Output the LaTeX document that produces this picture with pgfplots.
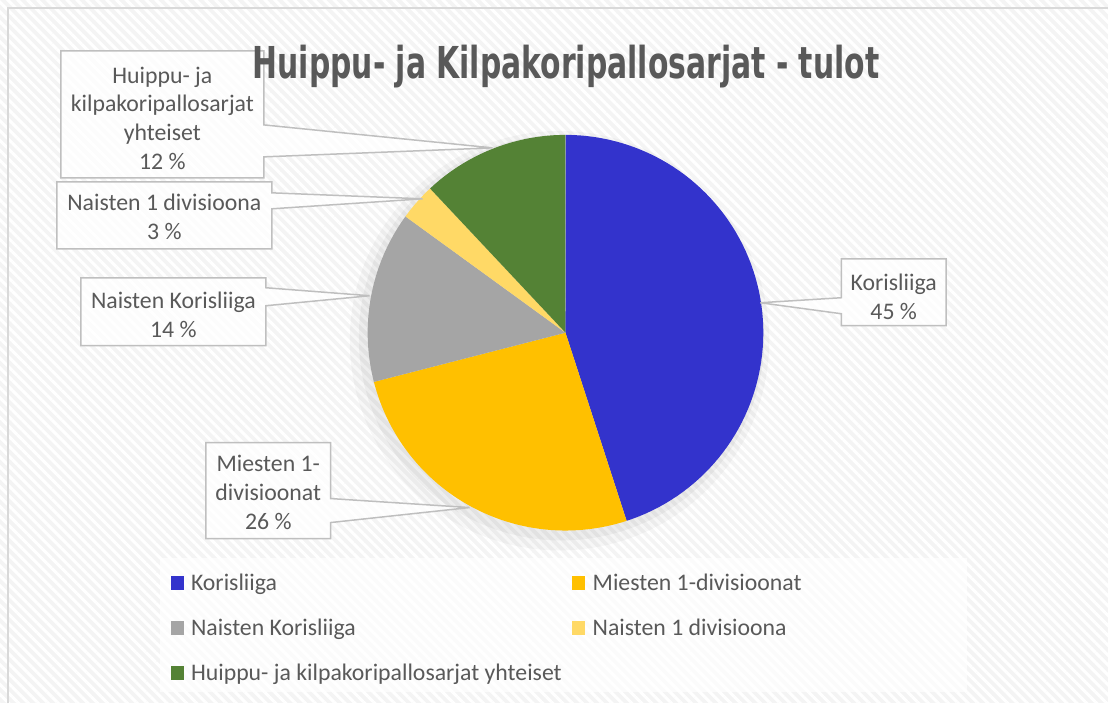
\documentclass[border=0pt]{standalone}
\usepackage{fontspec}
\setmainfont{Carlito}
\newfontfamily\titlefont{DejaVu Sans}
\usepackage{graphicx}
\usepackage{pgfplots}
\pgfplotsset{compat=1.18}
\usetikzlibrary{patterns.meta}

\definecolor{cKor}{HTML}{3333CC}
\definecolor{cMies}{HTML}{FFC000}
\definecolor{cNK}{HTML}{A5A5A5}
\definecolor{cN1}{HTML}{FFD966}
\definecolor{cHK}{HTML}{548235}
\definecolor{txt}{HTML}{595959}
\definecolor{boxline}{HTML}{BFBFBF}
\definecolor{bg}{HTML}{F4F4F4}

% shares in percent (clockwise from 12 o'clock)
\def\vKor{45}
\def\vMies{26}
\def\vNK{14}
\def\vNone{3}
\def\vHK{12}

\pgfmathsetmacro{\aA}{90}
\pgfmathsetmacro{\aB}{\aA-3.6*\vKor}
\pgfmathsetmacro{\aC}{\aB-3.6*\vMies}
\pgfmathsetmacro{\aD}{\aC-3.6*\vNK}
\pgfmathsetmacro{\aE}{\aD-3.6*\vNone}
\pgfmathsetmacro{\aF}{\aE-3.6*\vHK}

\def\cx{566}
\def\cy{333}
\def\rr{198}

\tikzset{lbl/.style={text=txt, align=center, inner sep=0pt,
  font=\fontsize{23.8}{29}\selectfont},
  call/.style={draw=boxline, line width=1.5pt, fill=white, fill opacity=0.75}}

\begin{document}
\begin{tikzpicture}
\begin{axis}[
  width=1109pt, height=704pt, scale only axis,
  xmin=0, xmax=1109, ymin=0, ymax=704, y dir=reverse,
  hide axis, clip=false,
]
% background
\fill[bg] (axis cs:0,0) rectangle (axis cs:1109,704);
\fill[pattern={Lines[angle=-45,distance=7pt,line width=3pt]}, pattern color=white]
  (axis cs:0,0) rectangle (axis cs:1109,704);
\draw[gray!30, line width=2pt] (axis cs:8,704) -- (axis cs:8,8) -- (axis cs:1109,8);
\fill[white, opacity=0.7] (axis cs:160,558) rectangle (axis cs:968,693);

% soft shadow
\addplot[fill=black, fill opacity=0.03, draw=none, domain=0:360, samples=90]
  ({\cx-6+210*cos(x)}, {\cy+8-210*sin(x)});
\addplot[fill=black, fill opacity=0.04, draw=none, domain=0:360, samples=90]
  ({\cx-4+203*cos(x)}, {\cy+5-203*sin(x)});

% slices
\addplot[fill=cKor, draw=none, domain=\aB:\aA, samples=80]
  ({\cx+\rr*cos(x)}, {\cy-\rr*sin(x)}) -- (axis cs:\cx,\cy) -- cycle;
\addplot[fill=cMies, draw=none, domain=\aC:\aB, samples=60]
  ({\cx+\rr*cos(x)}, {\cy-\rr*sin(x)}) -- (axis cs:\cx,\cy) -- cycle;
\addplot[fill=cNK, draw=none, domain=\aD:\aC, samples=40]
  ({\cx+\rr*cos(x)}, {\cy-\rr*sin(x)}) -- (axis cs:\cx,\cy) -- cycle;
\addplot[fill=cN1, draw=none, domain=\aE:\aD, samples=12]
  ({\cx+\rr*cos(x)}, {\cy-\rr*sin(x)}) -- (axis cs:\cx,\cy) -- cycle;
\addplot[fill=cHK, draw=none, domain=\aF:\aE, samples=40]
  ({\cx+\rr*cos(x)}, {\cy-\rr*sin(x)}) -- (axis cs:\cx,\cy) -- cycle;

% callouts
\draw[call] (axis cs:61,51) -- (axis cs:264,51) -- (axis cs:264,125) -- (axis cs:493,148)
  -- (axis cs:264,157) -- (axis cs:264,178) -- (axis cs:61,178) -- cycle;
\draw[call] (axis cs:57,182) -- (axis cs:272,182) -- (axis cs:272,193) -- (axis cs:423,199)
  -- (axis cs:272,209) -- (axis cs:272,249) -- (axis cs:57,249) -- cycle;
\draw[call] (axis cs:81,278) -- (axis cs:266,278) -- (axis cs:266,288) -- (axis cs:370,296)
  -- (axis cs:266,306) -- (axis cs:266,346) -- (axis cs:81,346) -- cycle;
\draw[call] (axis cs:206,443) -- (axis cs:331,443) -- (axis cs:331,499) -- (axis cs:470,508)
  -- (axis cs:331,523) -- (axis cs:331,539) -- (axis cs:206,539) -- cycle;
\draw[call] (axis cs:842,259) -- (axis cs:947,259) -- (axis cs:947,326) -- (axis cs:842,326)
  -- (axis cs:842,314) -- (axis cs:761,303) -- (axis cs:842,298) -- cycle;

\node[lbl] at (axis cs:162.5,118.5) {Huippu- ja\\kilpakoripallosarjat\\yhteiset\\12 \%};
\node[lbl] at (axis cs:164.5,217.5) {Naisten 1 divisioona\\3 \%};
\node[lbl] at (axis cs:173.5,315) {Naisten Korisliiga\\14 \%};
\node[lbl] at (axis cs:268.5,493) {Miesten 1-\\divisioonat\\26 \%};
\node[lbl] at (axis cs:894.5,297) {Korisliiga\\45 \%};

% title
\node[anchor=base, text=txt, inner sep=0pt] at (axis cs:566.5,79)
  {\resizebox{627pt}{\height}{\titlefont\bfseries\fontsize{44}{50}\selectfont Huippu- ja Kilpakoripallosarjat - tulot}};

% legend
\fill[cKor]  (axis cs:171,577) rectangle (axis cs:184,591);
\fill[cMies] (axis cs:573,577) rectangle (axis cs:586,591);
\fill[cNK]   (axis cs:171,622) rectangle (axis cs:184,636);
\fill[cN1]   (axis cs:573,622) rectangle (axis cs:586,636);
\fill[cHK]   (axis cs:171,667) rectangle (axis cs:184,681);
\node[lbl, anchor=base west] at (axis cs:191,591) {Korisliiga};
\node[lbl, anchor=base west] at (axis cs:593,591) {Miesten 1-divisioonat};
\node[lbl, anchor=base west] at (axis cs:191,636) {Naisten Korisliiga};
\node[lbl, anchor=base west] at (axis cs:593,636) {Naisten 1 divisioona};
\node[lbl, anchor=base west] at (axis cs:191,681) {Huippu- ja kilpakoripallosarjat yhteiset};
\end{axis}
\end{tikzpicture}
\end{document}
